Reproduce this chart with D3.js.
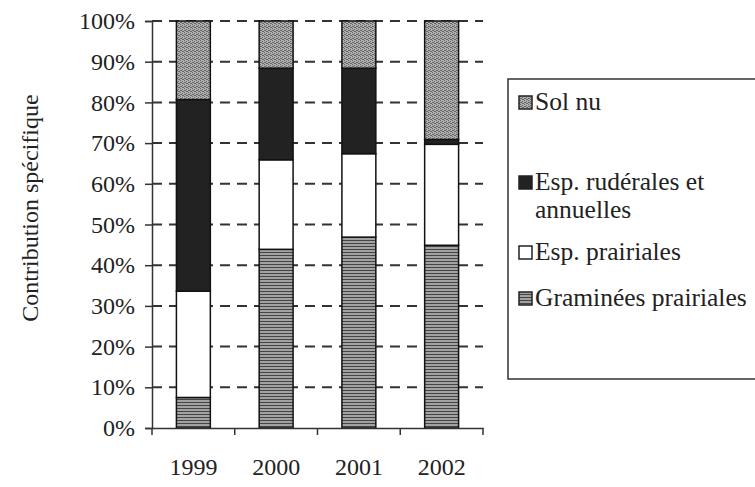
<!DOCTYPE html>
<html><head><meta charset="utf-8">
<script src="https://cdn.jsdelivr.net/npm/d3@7"></script>
<style>body{margin:0;background:#fff}svg{display:block}</style>
</head><body>
<svg id="c" width="755" height="487"></svg>
<script>
const years = ["1999","2000","2001","2002"];
const seriesNames = ["Graminées prairiales","Esp. prairiales","Esp. rudérales et annuelles","Sol nu"];
const graminees = [7.5, 43.9, 46.9, 44.9];
const prairiales = [26.1, 22.0, 20.5, 24.8];
const ruderales = [47.1, 22.5, 21.0, 1.2];
const solNu = [19.3, 11.6, 11.6, 29.1];
const yTicks = [0,10,20,30,40,50,60,70,80,90,100];

const FONT = "'Liberation Serif','Times New Roman',serif";
const svg = d3.select("#c");
const defs = svg.append("defs");
// stipple for Sol nu
const p1 = defs.append("pattern").attr("id","stip").attr("patternUnits","userSpaceOnUse").attr("width",4).attr("height",4);
p1.append("rect").attr("width",4).attr("height",4).attr("fill","#b0b0b0");
[[0,0],[2,1],[1,2],[3,3],[2,3],[0,2]].forEach(([x,y])=>p1.append("rect").attr("x",x).attr("y",y).attr("width",1).attr("height",1).attr("fill","#666"));
// stripes for Graminées
const p2 = defs.append("pattern").attr("id","stripe").attr("patternUnits","userSpaceOnUse").attr("width",4).attr("height",3);
p2.append("rect").attr("width",4).attr("height",3).attr("fill","#a2a2a2");
p2.append("rect").attr("y",0).attr("width",4).attr("height",1).attr("fill","#444");

const fills = ["url(#stripe)","#ffffff","#222222","url(#stip)"];

const x0 = 152, x1 = 483, yTop = 21, yBot = 428;
const x = d3.scaleBand().domain(years).range([x0,x1]).paddingInner(0.59).paddingOuter(0.295);
const y = d3.scaleLinear().domain([0,100]).range([yBot,yTop]);

const table = years.map((yr,i)=>({year:yr, g:graminees[i], p:prairiales[i], r:ruderales[i], s:solNu[i]}));
const stack = d3.stack().keys(["g","p","r","s"]);
const layers = stack(table);

// dashed gridlines
svg.append("g").selectAll("line").data(yTicks.filter(d=>d>0)).join("line")
  .attr("x1",x0).attr("x2",x1).attr("y1",d=>y(d)).attr("y2",d=>y(d))
  .attr("stroke","#333").attr("stroke-width",2).attr("stroke-dasharray","10,7");

// bars
layers.forEach((layer,k)=>{
  svg.append("g").selectAll("rect").data(layer).join("rect")
    .attr("x",d=>x(d.data.year)).attr("width",x.bandwidth())
    .attr("y",d=>y(d[1])).attr("height",d=>y(d[0])-y(d[1]))
    .attr("fill",fills[k]).attr("stroke","#111").attr("stroke-width",1.5);
});

// y axis
const ya = svg.append("g").attr("transform",`translate(${x0},0)`)
  .call(d3.axisLeft(y).tickValues(yTicks).tickFormat(d=>d+"%").tickSize(7).tickPadding(10));
ya.select(".domain").attr("stroke","#333").attr("stroke-width",1.5);
ya.selectAll(".tick line").attr("stroke","#333").attr("stroke-width",1.5);
ya.selectAll("text").attr("font-family",FONT).attr("font-size",24).attr("fill","#222");

// x axis
const xa = svg.append("g").attr("transform",`translate(0,${yBot})`)
  .call(d3.axisBottom(x).tickSize(0).tickPadding(30));
xa.select(".domain").attr("stroke","#333").attr("stroke-width",1.5);
xa.selectAll("text").attr("font-family",FONT).attr("font-size",24).attr("fill","#222");
// boundary ticks
const bounds = [x0].concat(years.map(d=>x(d)+x.bandwidth()/2+x.step()/2));
xa.append("g").selectAll("line").data(bounds).join("line")
  .attr("x1",d=>d).attr("x2",d=>d).attr("y1",0).attr("y2",7)
  .attr("stroke","#333").attr("stroke-width",1.5);

// y title
svg.append("text").attr("transform","translate(38,208) rotate(-90)")
  .attr("text-anchor","middle").attr("font-family",FONT)
  .attr("font-size",24).attr("fill","#222").text("Contribution spécifique");

// legend
const lg = svg.append("g");
lg.append("rect").attr("x",508).attr("y",79).attr("width",260).attr("height",300)
  .attr("fill","none").attr("stroke","#333").attr("stroke-width",1.5);
const legendItems = [
  {k:3, lines:["Sol nu"], y:110},
  {k:2, lines:["Esp. rudérales et","annuelles"], y:190},
  {k:1, lines:["Esp. prairiales"], y:260},
  {k:0, lines:["Graminées prairiales"], y:306}
];
legendItems.forEach(it=>{
  lg.append("rect").attr("x",519).attr("y",it.y-14).attr("width",13).attr("height",13)
    .attr("fill",fills[it.k]).attr("stroke","#222").attr("stroke-width",1.5);
  const t = lg.append("text").attr("x",535).attr("y",it.y)
    .attr("font-family",FONT).attr("font-size",25.5).attr("fill","#222");
  it.lines.forEach((l,i)=>t.append("tspan").attr("x",535).attr("dy",i?28:0).text(l));
});
</script>
</body></html>
